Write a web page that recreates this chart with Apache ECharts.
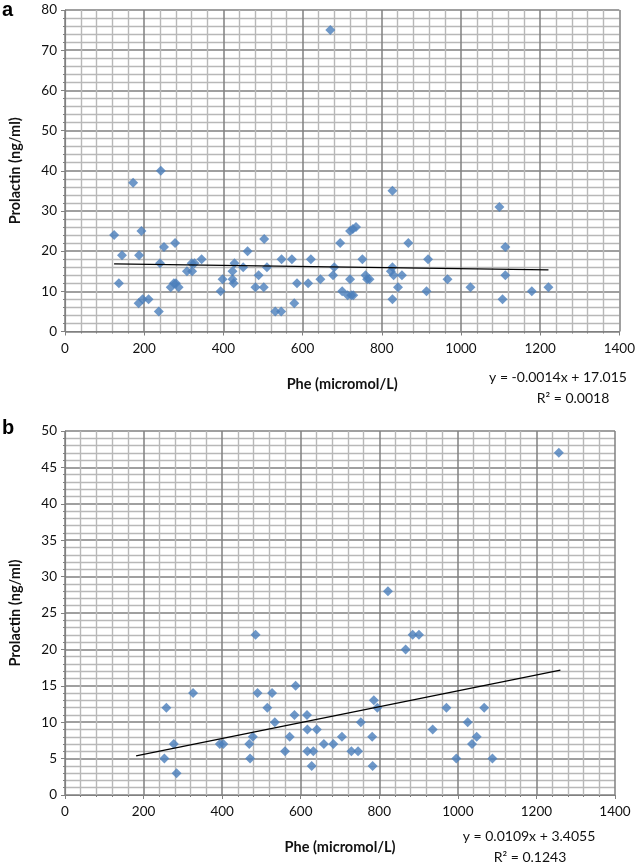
<!DOCTYPE html>
<html>
<head>
<meta charset="utf-8">
<script src="https://cdn.jsdelivr.net/npm/echarts@6/dist/echarts.min.js"></script>
<style>html,body{margin:0;padding:0;background:#fff}#c{width:638px;height:866px}</style>
</head>
<body>
<div id="c"></div>
<script>
// Panel a: Phe (micromol/L) vs Prolactin (ng/ml)
var pheA = [124,136,144,172,187,193,186,196,211,237,242,240,250,278,267,275,280,287,308,321,320,327,345,393,398,423,423,426,428,450,461,481,489,503,502,510,531,546,547,573,579,586,614,621,645,670,677,680,695,700,714,723,728,720,720,727,735,751,759,763,769,827,827,823,830,827,841,851,867,913,917,966,1024,1097,1105,1112,1112,1179,1221];
var prlA = [24,12,19,37,19,25,7,8,8,5,40,17,21,22,11,12,12,11,15,15,17,17,18,10,13,15,13,12,17,16,20,11,14,23,11,16,5,5,18,18,7,12,12,18,13,75,14,16,22,10,9,9,9,13,25,25.5,26,18,14,13,13,35,16,15,14,8,11,14,22,10,18,13,11,31,8,21,14,10,11];
// Panel b
var pheB = [253,258,277,284,326,394,403,469,471,478,485,490,515,527,534,560,572,584,587,616,617,617,628,632,641,659,683,705,729,746,753,782,783,786,795,822,867,885,901,936,971,996,1025,1036,1048,1067,1088,1257];
var prlB = [5,12,7,3,14,7,7,7,5,8,22,14,12,14,10,6,8,11,15,11,9,6,4,6,9,7,7,8,6,6,10,8,4,13,12,28,20,22,22,9,12,5,10,7,8,12,5,47];
// Linear trendlines (endpoints)
var trendAX = [124, 1221], trendAY = [16.84, 15.31];
var trendBX = [181, 1261], trendBY = [5.38, 17.15];
var eqA = ['y = -0.0014x + 17.015', 'R² = 0.0018'];
var eqB = ['y = 0.0109x + 3.4055', 'R² = 0.1243'];

function pairs(xs, ys){ return xs.map(function(x,i){ return [x, ys[i]]; }); }

var FONT = 'Lato, "Open Sans", sans-serif';
var MAJOR = '#808080', MINOR = '#b8b8b8', TXT = '#111';

function xAxis(gi){
  return {
    type:'value', gridIndex:gi, min:0, max:1400, interval:200,
    name:'Phe (micromol/L)', nameLocation:'middle', nameGap:45,
    nameTextStyle:{fontFamily:FONT, fontWeight:'bold', fontSize:14.5, color:TXT},
    axisLine:{show:true, onZero:false, lineStyle:{color:MAJOR, width:1.2}},
    axisTick:{show:true, inside:false, length:4, lineStyle:{color:MAJOR}},
    minorTick:{show:true, splitNumber:5, length:2, lineStyle:{color:MAJOR}},
    axisLabel:{fontFamily:FONT, fontSize:13.5, color:TXT, margin:10, formatter:function(v){ return String(v); }},
    splitLine:{show:true, lineStyle:{color:MAJOR, width:1.5}},
    minorSplitLine:{show:true, lineStyle:{color:MINOR, width:1.4}}
  };
}
function yAxis(gi, max, interval){
  return {
    type:'value', gridIndex:gi, min:0, max:max, interval:interval,
    name:'Prolactin (ng/ml)', nameLocation:'middle', nameGap:42, nameRotate:90,
    nameTextStyle:{fontFamily:FONT, fontWeight:'bold', fontSize:14.5, color:TXT},
    axisLine:{show:true, onZero:false, lineStyle:{color:MAJOR, width:1.2}},
    axisTick:{show:true, inside:false, length:4, lineStyle:{color:MAJOR}},
    minorTick:{show:true, splitNumber:5, length:2, lineStyle:{color:MAJOR}},
    axisLabel:{fontFamily:FONT, fontSize:13.5, color:TXT, margin:8},
    splitLine:{show:true, lineStyle:{color:MAJOR, width:1.5}},
    minorSplitLine:{show:true, lineStyle:{color:MINOR, width:1.4}}
  };
}

var chart = echarts.init(document.getElementById('c'), null, {renderer:'canvas'});
chart.setOption({
  animation:false,
  backgroundColor:'#fff',
  grid:[
    {left:57, top:10, width:567, height:321.5},
    {left:57, top:431, width:558, height:364}
  ],
  xAxis:[xAxis(0), xAxis(1)],
  yAxis:[yAxis(0, 80, 10), yAxis(1, 50, 5)],
  series:[
    {type:'scatter', xAxisIndex:0, yAxisIndex:0, data:pairs(pheA, prlA), symbol:'diamond', symbolSize:10, itemStyle:{color:'#4a7ebb'}, z:3},
    {type:'line', xAxisIndex:0, yAxisIndex:0, data:pairs(trendAX, trendAY), showSymbol:false, symbol:'none', lineStyle:{color:'#000', width:1.3}, silent:true, z:4},
    {type:'scatter', xAxisIndex:1, yAxisIndex:1, data:pairs(pheB, prlB), symbol:'diamond', symbolSize:10, itemStyle:{color:'#4a7ebb'}, z:3},
    {type:'line', xAxisIndex:1, yAxisIndex:1, data:pairs(trendBX, trendBY), showSymbol:false, symbol:'none', lineStyle:{color:'#000', width:1.3}, silent:true, z:4}
  ],
  graphic:[
    {type:'text', left:2, top:0, style:{text:'a', font:'bold 20px "Liberation Sans", Arial, sans-serif', fill:'#000'}},
    {type:'text', left:2, top:418, style:{text:'b', font:'bold 20px "Liberation Sans", Arial, sans-serif', fill:'#000'}},
    {type:'text', x:558, y:377, style:{text:eqA[0], font:'14px ' + FONT, fill:TXT, align:'center', verticalAlign:'middle'}},
    {type:'text', x:573, y:398, style:{text:eqA[1], font:'14px ' + FONT, fill:TXT, align:'center', verticalAlign:'middle'}},
    {type:'text', x:529, y:836, style:{text:eqB[0], font:'14px ' + FONT, fill:TXT, align:'center', verticalAlign:'middle'}},
    {type:'text', x:530, y:857, style:{text:eqB[1], font:'14px ' + FONT, fill:TXT, align:'center', verticalAlign:'middle'}}
  ]
});
</script>
</body>
</html>
